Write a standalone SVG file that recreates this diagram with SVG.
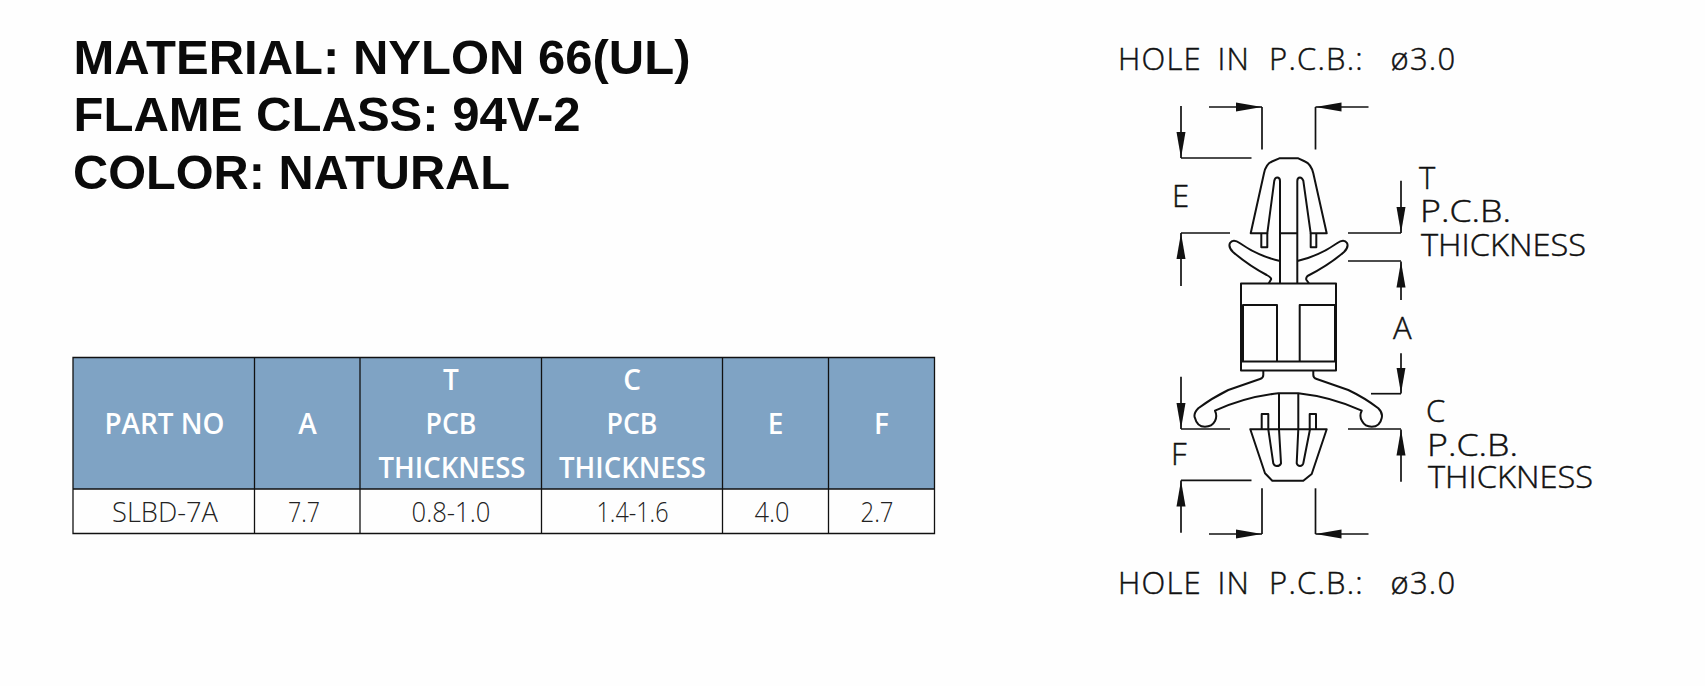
<svg xmlns="http://www.w3.org/2000/svg" width="1705" height="686" viewBox="0 0 1705 686">
<style>
.t{font-family:"Liberation Sans",Arial,sans-serif;font-weight:700;font-size:48px;fill:#0a0a0a}
.h{font-family:"Open Sans","Noto Sans",sans-serif;font-weight:600;font-size:28px;fill:#fff;text-anchor:middle}
.d{font-family:"Open Sans","Noto Sans",sans-serif;font-weight:300;font-size:28px;fill:#222;text-anchor:middle}
.c{font-family:"Open Sans","Noto Sans",sans-serif;font-weight:300;font-size:31px;fill:#111;stroke:#111;stroke-width:.45}
.w{word-spacing:6.500px;letter-spacing:1.200px}
.o{fill:none;stroke:#111;stroke-width:2;stroke-linejoin:round;stroke-linecap:butt}
.g{fill:none;stroke:#111;stroke-width:1.3}
.l{stroke:#111;stroke-width:1.7;fill:none}
</style>
<defs>
<marker id="a" markerUnits="userSpaceOnUse" markerWidth="27" markerHeight="11" refX="26" refY="5.500" orient="auto"><path d="M0 1L26 5.500L0 10z" fill="#111"/></marker>
</defs>
<rect width="1705" height="686" fill="#fefefe"/>
<g id="title">
<text class="t" x="73.500" y="73.500" textLength="617" lengthAdjust="spacingAndGlyphs">MATERIAL: NYLON 66(UL)</text>
<text class="t" x="73.500" y="131" textLength="507" lengthAdjust="spacingAndGlyphs">FLAME CLASS: 94V-2</text>
<text class="t" x="73" y="188.500" textLength="437" lengthAdjust="spacingAndGlyphs">COLOR: NATURAL</text>
</g>
<g id="table">
<rect x="73" y="357.500" width="861.500" height="131.500" fill="#7fa3c4"/>
<path class="g" d="M73 357.500H934.500V533.500H73ZM73 489H934.500M254.500 357.500V533.500M360 357.500V533.500M541.500 357.500V533.500M722.500 357.500V533.500M828.500 357.500V533.500"/>
<text class="h" x="164.500" y="433.500" textLength="120" lengthAdjust="spacingAndGlyphs">PART NO</text>
<text class="h" x="307.500" y="433.500">A</text>
<text class="h" x="451" y="390">T</text>
<text class="h" x="451" y="433.500" textLength="51" lengthAdjust="spacingAndGlyphs">PCB</text>
<text class="h" x="452" y="477.500" textLength="147" lengthAdjust="spacingAndGlyphs">THICKNESS</text>
<text class="h" x="632" y="390">C</text>
<text class="h" x="632" y="433.500" textLength="51" lengthAdjust="spacingAndGlyphs">PCB</text>
<text class="h" x="632.500" y="477.500" textLength="147" lengthAdjust="spacingAndGlyphs">THICKNESS</text>
<text class="h" x="775.500" y="433.500">E</text>
<text class="h" x="881.500" y="433.500">F</text>
<text class="d" x="165" y="521.500" textLength="106" lengthAdjust="spacingAndGlyphs">SLBD-7A</text>
<text class="d" x="304" y="521.500" textLength="32" lengthAdjust="spacingAndGlyphs">7.7</text>
<text class="d" x="451" y="521.500" textLength="79" lengthAdjust="spacingAndGlyphs">0.8-1.0</text>
<text class="d" x="632.500" y="521.500" textLength="72" lengthAdjust="spacingAndGlyphs">1.4-1.6</text>
<text class="d" x="772" y="521.500" textLength="35" lengthAdjust="spacingAndGlyphs">4.0</text>
<text class="d" x="877" y="521.500" textLength="33" lengthAdjust="spacingAndGlyphs">2.7</text>
</g>
<g id="part">
<rect class="o" x="1241" y="283.500" width="95" height="87"/>
<path class="o" d="M1243 360.500V305H1277V360.500M1299.700 360.500V305H1335V360.500M1241 361.500H1336"/>
<path class="o" d="M1280 283.500V181Q1280 177.500 1277.300 177.500Q1275 177.500 1274.300 180.700L1267.300 233.300H1250.700L1264 173.300Q1266 164 1272 161.500L1279.300 158.300H1298.300L1305 161.500Q1311 164 1313.300 173.300L1326.700 233.300H1310.700L1303.300 180.700Q1302 177.500 1300 177.500Q1297.300 177.500 1297.300 181V283.500M1280 233.300H1297.300"/>
<path class="o" d="M1261.300 233.300V247.300H1267.300V233.300M1310.700 233.300V247.300H1316.300V233.300"/>
<path class="o" d="M1280 261Q1258 256 1240 243.300Q1233 238.500 1230 243Q1228 247 1233 252Q1248 265 1266.700 275Q1272 278 1271 279.500L1268.700 283.500M1297.300 261Q1319 256 1337 243.300Q1344 238.500 1347 243Q1349 247 1344 252Q1329 265 1307.500 276Q1305.500 278 1306.500 280L1309 283.500"/>
<path class="o" d="M1263.300 370.500V375Q1263.300 378 1260 379L1228.300 390Q1212 398 1198.300 408.300Q1193 414 1195 418Q1197 426.700 1205 426.700Q1212 426.700 1215 421Q1217.500 416 1215 410.700Q1245 397 1278.300 393.300H1298.300Q1332 397 1361.700 410.700Q1359 416 1362 421Q1365 426.700 1371.700 426.700Q1380 426.700 1381.700 418Q1383 413 1378.300 408.300Q1365 398 1348.300 390L1316.700 379Q1313.300 378 1313.300 375V370.500"/>
<path class="o" d="M1279 393.300V429.300M1298.300 393.300V429.300"/>
<path class="o" d="M1250.300 429.300H1326.700L1311.700 474L1303.300 480.700H1272.300L1265 473.300ZM1268.300 429.300L1273.300 463.300Q1274.500 466 1276.700 466Q1280 466 1281 463.300L1279 429.300M1298.300 429.300L1296.700 463.300Q1297.500 466 1300 466Q1302.500 466 1303.300 463.300L1310 429.300"/>
<path class="o" d="M1261.700 429.300V414H1268.300V429.300M1309.700 429.300V414H1316V429.300"/>
</g>
<g id="connectors">
<path class="l" d="M1209 107H1262" marker-end="url(#a)"/>
<path class="l" d="M1262 107V149.500"/>
<path class="l" d="M1368.500 107H1315.500" marker-end="url(#a)"/>
<path class="l" d="M1315.500 107V149.500"/>
<path class="l" d="M1181 106V158" marker-end="url(#a)"/>
<path class="l" d="M1181 158H1251.500"/>
<path class="l" d="M1181 286V233" marker-end="url(#a)"/>
<path class="l" d="M1181 233H1230"/>
<path class="l" d="M1401 180.700V233" marker-end="url(#a)"/>
<path class="l" d="M1348 233H1401"/>
<path class="l" d="M1401 300V261.500" marker-end="url(#a)"/>
<path class="l" d="M1348 261H1401"/>
<path class="l" d="M1401 353.300V393.500" marker-end="url(#a)"/>
<path class="l" d="M1371 393.700H1401"/>
<path class="l" d="M1181 376.700V429" marker-end="url(#a)"/>
<path class="l" d="M1181 429H1230"/>
<path class="l" d="M1401 481.700V429.500" marker-end="url(#a)"/>
<path class="l" d="M1348 429H1401"/>
<path class="l" d="M1181 532.700V480.500" marker-end="url(#a)"/>
<path class="l" d="M1181 480.300H1251.500"/>
<path class="l" d="M1209 534H1262" marker-end="url(#a)"/>
<path class="l" d="M1262 488.300V534"/>
<path class="l" d="M1368.500 534H1315.500" marker-end="url(#a)"/>
<path class="l" d="M1315.500 488.300V534"/>
</g>
<g id="labels">
<text class="c w" x="1118" y="69.500">HOLE IN <tspan dx="3.200">P.C.B.:</tspan> <tspan dx="11">ø3.0</tspan></text>
<text class="c" x="1172" y="207">E</text>
<text class="c" x="1419" y="188.500">T</text>
<text class="c" x="1420" y="222" textLength="91" lengthAdjust="spacingAndGlyphs">P.C.B.</text>
<text class="c" x="1421" y="255.500" textLength="165" lengthAdjust="spacingAndGlyphs">THICKNESS</text>
<text class="c" x="1393" y="338.500">A</text>
<text class="c" x="1171" y="465">F</text>
<text class="c" x="1426" y="422">C</text>
<text class="c" x="1427" y="455.500" textLength="91" lengthAdjust="spacingAndGlyphs">P.C.B.</text>
<text class="c" x="1428" y="488" textLength="165" lengthAdjust="spacingAndGlyphs">THICKNESS</text>
<text class="c w" x="1118" y="594">HOLE IN <tspan dx="3.200">P.C.B.:</tspan> <tspan dx="11">ø3.0</tspan></text>
</g>
</svg>
